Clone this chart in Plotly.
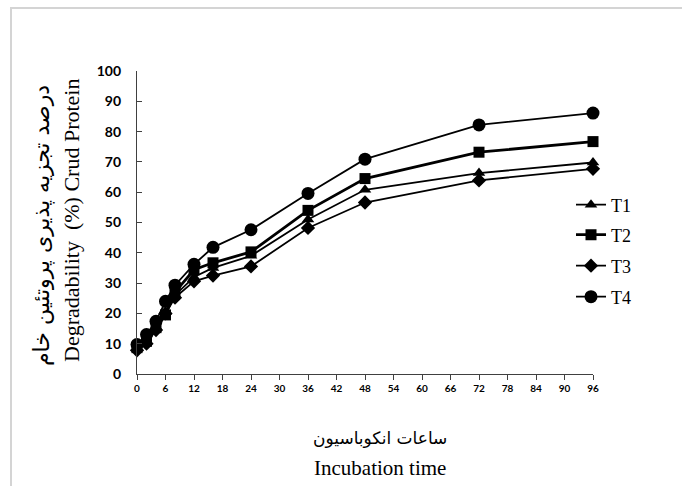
import plotly.graph_objects as go

hours = [0, 2, 4, 6, 8, 12, 16, 24, 36, 48, 72, 96]
t1 = [8.5, 11.0, 15.5, 20.5, 26.0, 32.0, 35.0, 39.0, 51.0, 60.8, 66.3, 69.8]
t2 = [8.7, 10.8, 15.3, 19.5, 27.0, 34.4, 36.7, 40.3, 54.0, 64.5, 73.2, 76.7]
t3 = [7.8, 10.0, 14.5, 20.0, 25.2, 30.6, 32.5, 35.5, 48.2, 56.6, 63.9, 67.7]
t4 = [9.7, 13.0, 17.4, 24.0, 29.3, 36.2, 41.8, 47.6, 59.6, 70.9, 82.2, 86.1]
series_names = ["T1", "T2", "T3", "T4"]
x_ticks = list(range(0, 97, 6))
y_ticks = list(range(0, 101, 10))

W, H = 682, 486
L, R, T, B = 137, 89, 71, 112
pw, ph = W - L - R, H - T - B

def px_x(px):
    return (px - L) / pw

def px_y(py):
    return (H - B - py) / ph

fig = go.Figure()
styles = [
    dict(symbol="triangle-up", size=11, lw=1.8),
    dict(symbol="square", size=11, lw=2.8),
    dict(symbol="diamond", size=11, lw=1.8),
    dict(symbol="circle", size=13, lw=1.8),
]
legend_ids = ["legend", "legend2", "legend3", "legend4"]
legend_rows = [205, 235, 266, 297]
for name, vals, st, lg in zip(series_names, [t1, t2, t3, t4], styles, legend_ids):
    fig.add_trace(go.Scatter(
        x=hours, y=vals, name=name, mode="lines+markers",
        line=dict(color="black", width=st["lw"]),
        marker=dict(symbol=st["symbol"], size=st["size"], color="black"),
        cliponaxis=False, legend=lg,
    ))

legend_common = dict(
    xanchor="left", yanchor="middle",
    font=dict(family="Liberation Serif", size=18, color="black"),
    bgcolor="rgba(0,0,0,0)", itemwidth=30,
)
legend_layout = {}
for lg, row in zip(legend_ids, legend_rows):
    legend_layout[lg] = dict(x=px_x(571), y=px_y(row), **legend_common)

fig.update_layout(
    width=W, height=H,
    margin=dict(l=L, r=R, t=T, b=B),
    paper_bgcolor="white", plot_bgcolor="white",
    showlegend=True,
    **legend_layout,
    xaxis=dict(
        range=[0, 96], tickvals=x_ticks, ticktext=[str(v) for v in x_ticks],
        showline=True, linecolor="#404040", linewidth=1.2,
        ticks="outside", ticklen=5, tickcolor="#404040",
        showgrid=False, zeroline=False,
        tickfont=dict(family="Lato", size=10, color="black", weight="bold"),
    ),
    yaxis=dict(
        range=[0, 100], tickvals=y_ticks,
        showline=True, linecolor="#404040", linewidth=1.2,
        ticks="inside", ticklen=5, tickcolor="#404040",
        ticklabelstandoff=12,
        showgrid=False, zeroline=False,
        tickfont=dict(family="Lato", size=14, color="black", weight="bold"),
    ),
    shapes=[
        dict(type="rect", xref="paper", yref="paper",
             x0=px_x(10), x1=px_x(682), y0=px_y(9), y1=px_y(7),
             fillcolor="#d4d4d4", line=dict(width=0)),
        dict(type="rect", xref="paper", yref="paper",
             x0=px_x(10), x1=px_x(12), y0=px_y(7), y1=px_y(486),
             fillcolor="#d4d4d4", line=dict(width=0)),
    ],
    annotations=[
        dict(text="درصد تجزیه پذیری پروتئین خام", xref="paper", yref="paper",
             x=px_x(42), y=px_y(226), textangle=-90, showarrow=False,
             xanchor="center", yanchor="middle",
             font=dict(family="DejaVu Sans", size=22, color="black")),
        dict(text="Degradability  (%) Crud Protein", xref="paper", yref="paper",
             x=px_x(71), y=px_y(220), textangle=-90, showarrow=False,
             xanchor="center", yanchor="middle",
             font=dict(family="Liberation Serif", size=22, color="black")),
        dict(text="ساعات انکوباسیون", xref="paper", yref="paper",
             x=px_x(380), y=px_y(438), showarrow=False,
             xanchor="center", yanchor="middle",
             font=dict(family="DejaVu Sans", size=17, color="black")),
        dict(text="Incubation time", xref="paper", yref="paper",
             x=px_x(380), y=px_y(468), showarrow=False,
             xanchor="center", yanchor="middle",
             font=dict(family="Liberation Serif", size=21, color="black")),
    ],
)

fig.write_html("out.html", config={"displayModeBar": False},
               post_script="document.body.style.margin='0';document.body.style.padding='0';")
